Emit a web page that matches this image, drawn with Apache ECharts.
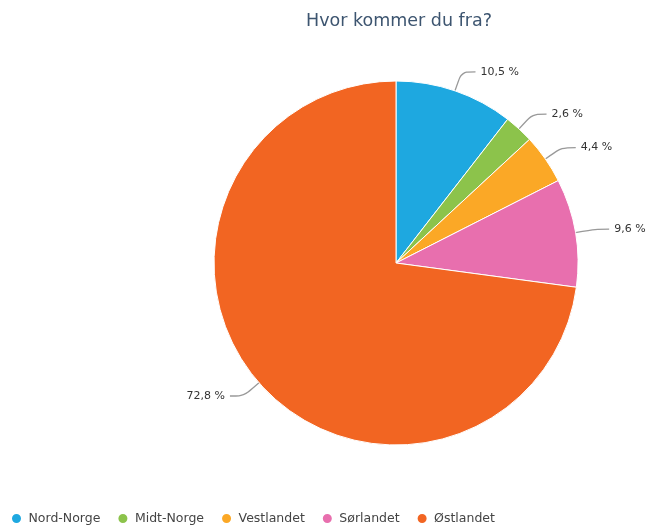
<!DOCTYPE html>
<html>
<head>
<meta charset="utf-8">
<script src="https://cdn.jsdelivr.net/npm/echarts@6/dist/echarts.min.js"></script>
<style>
html, body { margin: 0; padding: 0; background: #fff; }
#main { width: 648px; height: 527px; }
</style>
</head>
<body>
<div id="main"></div>
<script>
var regions = ['Nord-Norge', 'Midt-Norge', 'Vestlandet', 'Sørlandet', 'Østlandet'];
var shares = [10.5, 2.6, 4.4, 9.6, 72.8];
var colors = ['#1ea8e0', '#8cc34b', '#fba826', '#e86fae', '#f26522'];

var myChart = echarts.init(document.getElementById('main'));

var option = {
    color: colors,
    textStyle: { fontFamily: 'DejaVu Sans' },
    title: {
        text: 'Hvor kommer du fra?',
        left: 394,
        top: 7,
        textAlign: 'center',
        textStyle: {
            fontSize: 17.5,
            fontWeight: 'normal',
            color: '#3d5570',
            fontFamily: 'DejaVu Sans'
        }
    },
    legend: {
        left: 5,
        top: 507,
        icon: 'circle',
        itemWidth: 14,
        itemHeight: 11,
        itemGap: 16,
        textStyle: { fontSize: 12.5, color: '#444', fontFamily: 'DejaVu Sans' },
        data: regions
    },
    series: [{
        type: 'pie',
        center: [396, 263],
        radius: 182,
        startAngle: 90,
        clockwise: true,
        avoidLabelOverlap: false,
        itemStyle: { borderColor: '#fff', borderWidth: 1 },
        label: {
            fontSize: 11,
            color: '#333',
            fontFamily: 'DejaVu Sans',
            formatter: function (p) {
                return p.value.toFixed(1).replace('.', ',') + ' %';
            }
        },
        labelLine: {
            length: 20,
            length2: 14,
            smooth: true,
            lineStyle: { color: '#999', width: 1.3 }
        },
        emphasis: { scale: false },
        data: regions.map(function (r, i) {
            return { name: r, value: shares[i] };
        })
    }]
};

myChart.setOption(option);
</script>
</body>
</html>
